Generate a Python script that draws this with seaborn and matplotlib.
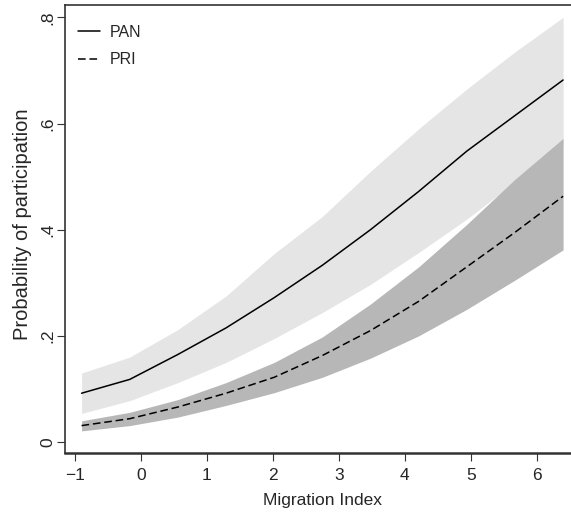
import numpy as np
import pandas as pd
import matplotlib
matplotlib.use("Agg")
import matplotlib.pyplot as plt
import seaborn as sns

# migration index values where the predictions were computed
migration = [-0.9, -0.17, 0.56, 1.29, 2.02, 2.75, 3.48, 4.21, 4.94, 5.67, 6.4]

# PAN predicted probability and 95% band
pan_p = [0.092, 0.118, 0.165, 0.215, 0.272, 0.333, 0.400, 0.472, 0.548, 0.615, 0.682]
pan_hi = [0.130, 0.160, 0.212, 0.275, 0.355, 0.425, 0.510, 0.590, 0.665, 0.735, 0.800]
pan_lo = [0.054, 0.078, 0.112, 0.150, 0.195, 0.244, 0.297, 0.357, 0.420, 0.490, 0.560]

# PRI predicted probability and 95% band
pri_p = [0.031, 0.044, 0.066, 0.092, 0.122, 0.163, 0.210, 0.265, 0.330, 0.395, 0.463]
pri_hi = [0.040, 0.056, 0.080, 0.112, 0.150, 0.198, 0.260, 0.330, 0.410, 0.495, 0.572]
pri_lo = [0.021, 0.031, 0.047, 0.069, 0.093, 0.122, 0.158, 0.200, 0.250, 0.305, 0.362]

x_ticks = [-1, 0, 1, 2, 3, 4, 5, 6]
y_ticks = [0, 0.2, 0.4, 0.6, 0.8]
y_tick_labels = ["0", ".2", ".4", ".6", ".8"]

df = pd.DataFrame({
    "Migration Index": migration * 2,
    "Probability of participation": pan_p + pri_p,
    "party": ["PAN"] * len(migration) + ["PRI"] * len(migration),
})

sns.set_style("white")
plt.rcParams["font.family"] = ["Liberation Sans", "DejaVu Sans"]

fig = plt.figure(figsize=(5.71, 5.15), dpi=100)
ax = fig.add_axes([0.114, 0.120, 0.886, 0.870])

# confidence bands: PAN light, PRI dark on top
ax.fill_between(migration, pan_lo, pan_hi, color="#e5e5e5", linewidth=0, zorder=1)
ax.fill_between(migration, pri_lo, pri_hi, color="#b7b7b7", linewidth=0, zorder=2)

sns.lineplot(
    data=df, x="Migration Index", y="Probability of participation",
    hue="party", style="party",
    palette={"PAN": "black", "PRI": "black"},
    dashes={"PAN": "", "PRI": (5, 2.5)},
    linewidth=1.1, ax=ax, zorder=3,
)

ax.set_xlim(-1.15, 6.52)
ax.set_ylim(-0.021, 0.823)
ax.set_xticks(x_ticks)
ax.set_yticks(y_ticks)
ax.set_yticklabels(y_tick_labels, rotation=90, va="center")

ax.tick_params(axis="both", which="major", direction="out", length=6, width=0.8,
               color="#333333", labelsize=12.5, bottom=True, left=True)
ax.tick_params(axis="x", pad=5)
ax.tick_params(axis="y", pad=1)

for side in ["left", "bottom", "top"]:
    ax.spines[side].set_visible(True)
    ax.spines[side].set_color("#333333")
    ax.spines[side].set_linewidth(1.2)
ax.spines["right"].set_visible(False)
ax.spines["bottom"].set_linewidth(1.8)

ax.set_xlabel("Migration Index", fontsize=12.5)
ax.set_ylabel("Probability of participation", fontsize=14.5)
ax.xaxis.set_label_coords(0.508, -0.088)
ax.yaxis.set_label_coords(-0.066, 0.51)

leg = ax.legend(loc="upper left", frameon=False, fontsize=11.5, handlelength=1.4,
                handletextpad=0.6, labelspacing=0.8, borderaxespad=0.4,
                bbox_to_anchor=(0.0, 0.985))
for h in leg.get_lines():
    h.set_linewidth(1.1)

fig.savefig("out.png", dpi=100)
